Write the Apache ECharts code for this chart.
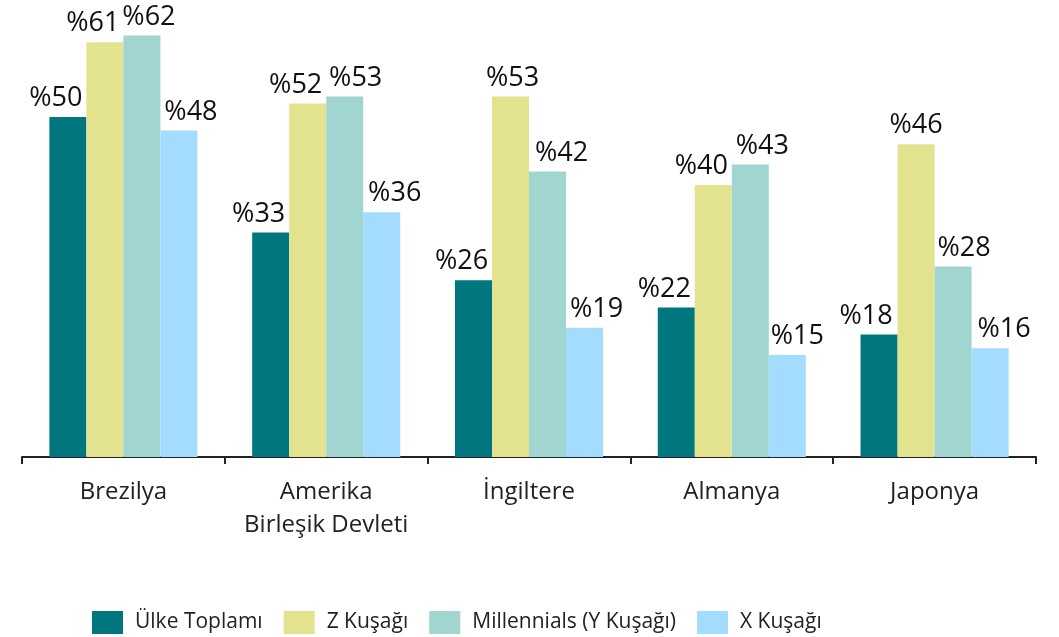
<!DOCTYPE html>
<html>
<head>
<meta charset="utf-8">
<script src="https://cdn.jsdelivr.net/npm/echarts@6/dist/echarts.min.js"></script>
<style>
  html, body { margin: 0; padding: 0; background: #fff; }
  #chart { width: 1059px; height: 637px; }
</style>
</head>
<body>
<div id="chart"></div>
<script>
var countries = ['Brezilya', 'Amerika\nBirleşik Devleti', 'İngiltere', 'Almanya', 'Japonya'];
var seriesNames = ['Ülke Toplamı', 'Z Kuşağı', 'Millennials (Y Kuşağı)', 'X Kuşağı'];
var ulkeToplami = [50, 33, 26, 22, 18];
var zKusagi = [61, 52, 53, 40, 46];
var millennials = [62, 53, 42, 43, 28];
var xKusagi = [48, 36, 19, 15, 16];
var colors = ['#00767e', '#e3e38f', '#a0d5d0', '#a3dcff'];

// horizontal nudges of the value labels so neighbours don't collide
var labelNudge = [
    [-12, -12, -12, -12, -13],
    [-12, -12, 2, -12, 0],
    [7, 11, 14, 12, 11],
    [12, 13, 12, 10, 14]
];

(function(){
    var myChart = echarts.init(document.getElementById('chart'));
    var font = '"Open Sans", sans-serif';
    var values = [ulkeToplami, zKusagi, millennials, xKusagi];

    var series = values.map(function(v, i){
        return {
            name: seriesNames[i],
            type: 'bar',
            data: v,
            barGap: '0%',
            barCategoryGap: '27%',
            itemStyle: { color: colors[i] },
            labelLayout: function(params){
                return { dx: labelNudge[i][params.dataIndex], hideOverlap: false };
            },
            label: {
                show: true,
                position: 'top',
                distance: 5,
                formatter: '%{c}',
                color: '#111',
                fontSize: 27,
                fontFamily: font
            }
        };
    });

    var option = {
        animation: false,
        textStyle: { fontFamily: font },
        grid: { left: 22, right: 23, top: 15, bottom: 180 },
        legend: {
            top: 606,
            left: 87,
            itemWidth: 31,
            itemHeight: 23,
            itemGap: 21,
            icon: 'rect',
            textStyle: { fontSize: 21, color: '#222', fontFamily: font, padding: [0, 0, 0, 7] },
            data: seriesNames
        },
        xAxis: {
            type: 'category',
            data: countries,
            axisLine: { lineStyle: { color: '#222', width: 2 } },
            axisTick: { show: true, interval: 0, length: 7, lineStyle: { color: '#222', width: 2 } },
            axisLabel: {
                interval: 0,
                color: '#222',
                fontSize: 24,
                lineHeight: 33,
                margin: 19,
                fontFamily: font
            }
        },
        yAxis: {
            type: 'value',
            min: 0,
            max: 65,
            show: false,
            splitLine: { show: false }
        },
        series: series
    };

    myChart.setOption(option);
    window.addEventListener('resize', function(){
        myChart.resize();
    });
})();
</script>
</body>
</html>
